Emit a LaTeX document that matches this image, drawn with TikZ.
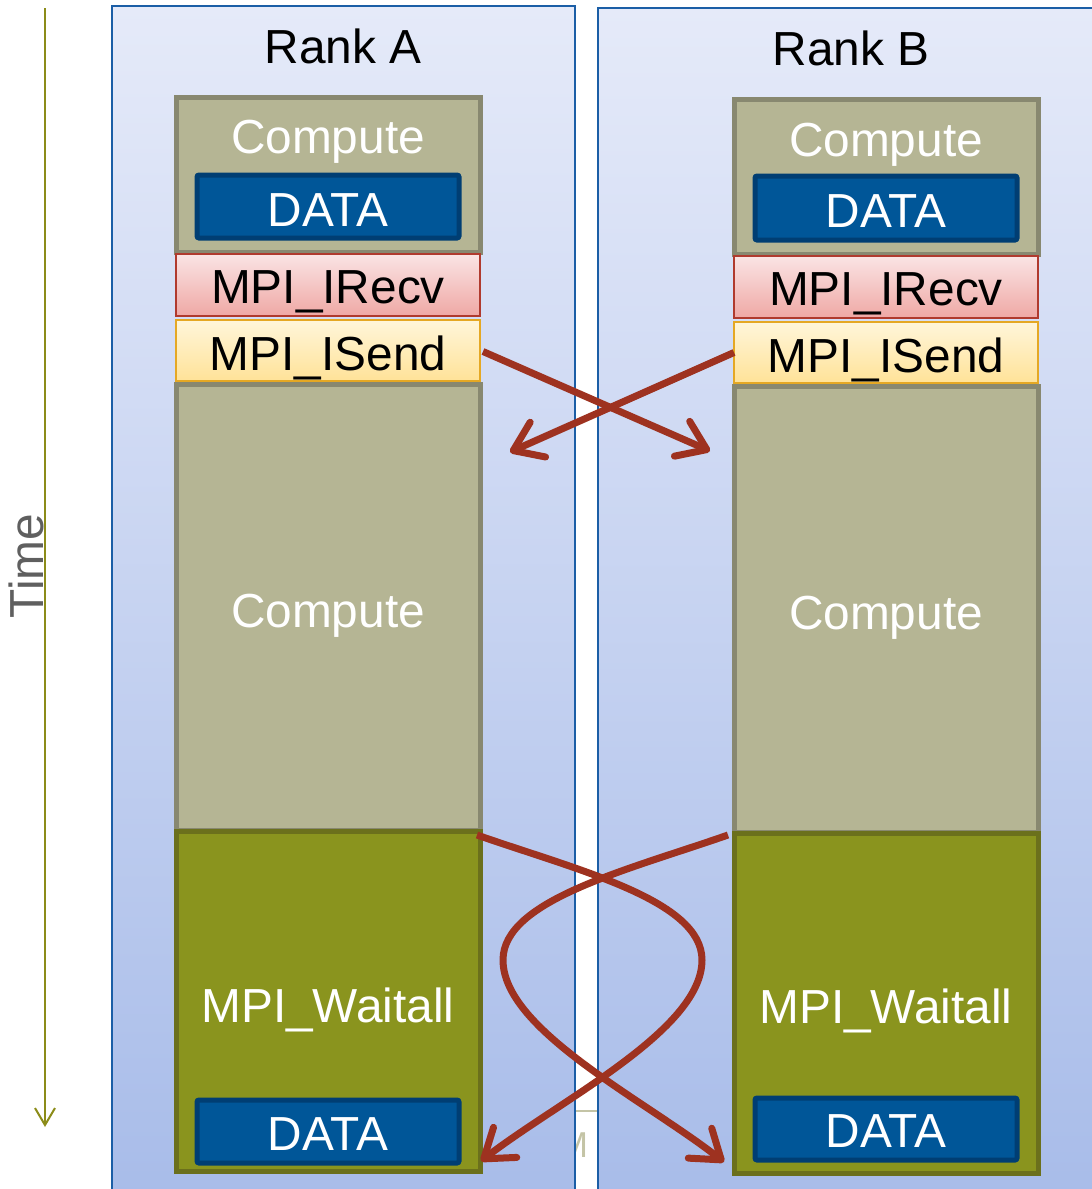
\documentclass[tikz,border=0pt]{standalone}
\usepackage{fontspec}
\setmainfont{Liberation Sans}
\usetikzlibrary{arrows.meta}

\definecolor{panelline}{RGB}{27,94,166}
\definecolor{paneltop}{RGB}{229,234,249}
\definecolor{panelbot}{RGB}{168,188,233}
\definecolor{compfill}{RGB}{181,181,148}
\definecolor{compline}{RGB}{136,136,112}
\definecolor{waitfill}{RGB}{138,148,30}
\definecolor{waitline}{RGB}{107,112,28}
\definecolor{datafill}{RGB}{0,86,152}
\definecolor{dataline}{RGB}{0,62,115}
\definecolor{recvtop}{RGB}{250,228,228}
\definecolor{recvbot}{RGB}{239,168,165}
\definecolor{recvline}{RGB}{176,58,46}
\definecolor{sendtop}{RGB}{255,246,218}
\definecolor{sendbot}{RGB}{255,226,152}
\definecolor{sendline}{RGB}{229,168,36}
\definecolor{msgred}{RGB}{158,50,32}
\definecolor{timeolive}{RGB}{140,140,25}
\definecolor{timegray}{RGB}{95,95,95}
\definecolor{ghost}{RGB}{196,196,166}

\tikzset{
  blk/.style={draw, rectangle, inner sep=0pt, outer sep=0pt},
  comp/.style={blk, fill=compfill, draw=compline, line width=5pt},
  waitbox/.style={blk, fill=waitfill, draw=waitline, line width=5pt},
  databox/.style={blk, fill=datafill, draw=dataline, line width=5pt, rounded corners=2pt},
  recvbox/.style={blk, top color=recvtop, bottom color=recvbot, draw=recvline, line width=2pt},
  sendbox/.style={blk, top color=sendtop, bottom color=sendbot, draw=sendline, line width=2pt},
  wide/.style={minimum width=304pt},
  narrow/.style={minimum width=262pt},
  lbl/.style={anchor=base, inner sep=0pt, font=\fontsize{47.8pt}{56pt}\selectfont},
  wlbl/.style={lbl, text=white},
  msg/.style={draw=msgred, line width=7pt, -{Straight Barb[length=27pt,width=38pt,round]}},
  timeline/.style={draw=timeolive, line width=2pt, -{Straight Barb[length=17pt,width=20pt]}},
}

\begin{document}
\begin{tikzpicture}[x=1pt, y=-1pt]
\useasboundingbox (0,0) rectangle (1092,1189);
\clip (0,0) rectangle (1092,1189);

% faint leftover mark in the gap between the two ranks
\draw[ghost, line width=1.5pt] (560,1111) -- (598,1111);
\node[anchor=base, inner sep=0pt, text=ghost, font=\fontsize{36pt}{40pt}\selectfont] (ghostM) at (573,1157) {M};

% rank panels
\shade[top color=paneltop, bottom color=panelbot] (112,6) rectangle (575,1200);
\draw[panelline, line width=2.5pt] (112,1200) -- (112,6) -- (575,6) -- (575,1200);
\shade[top color=paneltop, bottom color=panelbot] (598,8) rectangle (1100,1200);
\draw[panelline, line width=2.5pt] (598,1200) -- (598,8) -- (1100,8);

\node[lbl] (rankA) at (343,63) {Rank A};
\node[lbl] (rankB) at (851,65) {Rank B};

% time axis
\coordinate (tTop) at (45,8);
\coordinate (tBot) at (45,1127);
\draw[timeline] (tTop) -- (tBot);
\node[lbl, rotate=90, text=timegray] (timelbl) at (43,566) {Time};

% rank A timeline
\node[comp, wide, minimum height=155pt] (ctopA) at (328,174.5) {};
\node[comp, wide, minimum height=446pt] (cmidA) at (328,607) {};
\node[waitbox, wide, minimum height=340pt] (waitA) at (328,1001) {};
\node[recvbox, wide, minimum height=62pt] (recvA) at (328,285) {};
\node[sendbox, wide, minimum height=61pt] (sendA) at (328,350.5) {};
\node[databox, narrow, minimum height=63pt] (dataA1) at (328,206.5) {};
\node[databox, narrow, minimum height=63pt] (dataA2) at (328,1131.5) {};

\node[wlbl] at (328,153) {Compute};
\node[wlbl] at (328,226) {DATA};
\node[lbl] at (328,303) {MPI\_IRecv};
\node[lbl] at (328,370) {MPI\_ISend};
\node[wlbl] at (328,627) {Compute};
\node[wlbl] at (328,1022) {MPI\_Waitall};
\node[wlbl] at (328,1150) {DATA};

% rank B timeline
\node[comp, wide, minimum height=155pt] (ctopB) at (886,176.5) {};
\node[comp, wide, minimum height=446pt] (cmidB) at (886,609) {};
\node[waitbox, wide, minimum height=340pt] (waitB) at (886,1003) {};
\node[recvbox, wide, minimum height=62pt] (recvB) at (886,287) {};
\node[sendbox, wide, minimum height=61pt] (sendB) at (886,352.5) {};
\node[databox, narrow, minimum height=64pt] (dataB1) at (886,208) {};
\node[databox, narrow, minimum height=62pt] (dataB2) at (886,1129) {};

\node[wlbl] at (886,156) {Compute};
\node[wlbl] at (886,227) {DATA};
\node[lbl] at (886,305) {MPI\_IRecv};
\node[lbl] at (886,372) {MPI\_ISend};
\node[wlbl] at (886,629) {Compute};
\node[wlbl] at (886,1023) {MPI\_Waitall};
\node[wlbl] at (886,1147) {DATA};

% messages after the sends
\coordinate (arrB1) at (710,451);
\coordinate (arrA1) at (510,452);
\draw[msg] ([shift={(3,1)}]sendA.east) -- (arrB1);
\draw[msg] (sendB.west) -- (arrA1);

% messages completed by the waits
\coordinate (arrA2) at (481,1161);
\coordinate (arrB2) at (724,1162);
\draw[msg] ([shift={(-3,4)}]waitA.north east)
  .. controls (577,870) and (702,900) .. (702,960)
  .. controls (702,1030) and (560,1100) .. (arrA2);
\draw[msg] ([shift={(-6,2)}]waitB.north west)
  .. controls (628,870) and (503,900) .. (503,960)
  .. controls (503,1030) and (645,1100) .. (arrB2);
\end{tikzpicture}
\end{document}
